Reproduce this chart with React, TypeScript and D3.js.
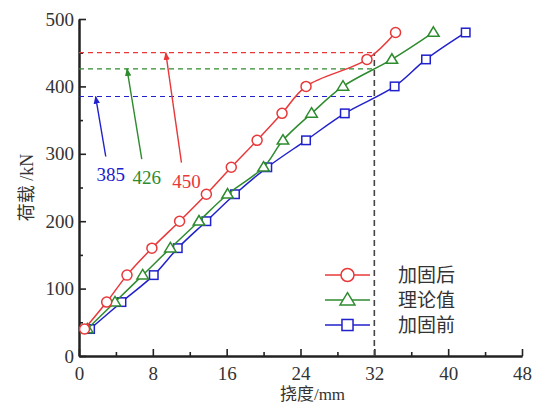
import React, { useEffect, useRef } from "react";
import * as d3 from "d3";

// load (kN) vs deflection (mm)
const afterX = [0.6, 3.0, 5.2, 7.9, 10.9, 13.8, 16.5, 19.3, 22.0, 24.6, 31.2, 34.3];
const afterY = [40, 80, 120, 160, 200, 240, 280, 320, 360, 400, 440, 480];
const theoryX = [0.9, 3.9, 6.9, 9.9, 13.0, 16.1, 20.0, 22.1, 25.2, 28.6, 33.9, 38.4];
const theoryY = [40, 80, 120, 160, 200, 240, 280, 320, 360, 400, 440, 480];
const beforeX = [1.2, 4.6, 8.1, 10.7, 13.8, 16.9, 20.4, 24.6, 28.8, 34.2, 37.6, 41.9];
const beforeY = [40, 80, 120, 160, 200, 240, 280, 320, 360, 400, 440, 480];

const seriesNames = ["加固后", "理论值", "加固前"];
const seriesColors = ["#e8383a", "#2e8b2e", "#2020cc"];
const seriesShapes = ["circle", "triangle", "square"];

const xTicks = [0, 8, 16, 24, 32, 40, 48];
const yTicks = [0, 100, 200, 300, 400, 500];

// reference levels and their arrow labels
const refLoads = [385, 426, 450];
const refDeflection = 32;
const arrowTail = [[2.9, 296], [6.8, 292], [11.1, 287]];
const arrowTip = [[1.8, 385], [5.2, 426], [9.4, 450]];

export default function App() {
  const ref = useRef<SVGSVGElement>(null);

  useEffect(() => {
    const W = 534, H = 407;
    const margin = { top: 19, right: 12, bottom: 51, left: 79 };
    const width = W - margin.left - margin.right;
    const height = H - margin.top - margin.bottom;
    const font = "'Liberation Serif', 'DejaVu Serif', serif, 'Noto Sans CJK SC'";
    const textColor = "#333";

    const root = d3.select(ref.current);
    root.selectAll("*").remove();
    const svg = root.append("g")
      .attr("transform", "translate(" + margin.left + "," + margin.top + ")");

    const x = d3.scaleLinear().domain([0, 48]).range([0, width]);
    const y = d3.scaleLinear().domain([0, 500]).range([height, 0]);

    // axes, ticks inward
    const xAxis = svg.append("g").attr("transform", "translate(0," + height + ")")
      .call(d3.axisBottom(x).tickValues(xTicks).tickSize(-7).tickPadding(11).tickSizeOuter(0));
    const xMinor = svg.append("g").attr("transform", "translate(0," + height + ")")
      .call(d3.axisBottom(x).tickValues(d3.range(4, 48, 8)).tickSize(-4).tickFormat(() => "").tickSizeOuter(0));
    const yAxis = svg.append("g")
      .call(d3.axisLeft(y).tickValues(yTicks).tickSize(-7).tickPadding(5).tickSizeOuter(0));
    const yMinor = svg.append("g")
      .call(d3.axisLeft(y).tickValues(d3.range(50, 500, 100)).tickSize(-4).tickFormat(() => "").tickSizeOuter(0));
    [xAxis, xMinor, yAxis, yMinor].forEach(a => {
      a.attr("font-family", font);
      a.select(".domain").attr("stroke", "#222").attr("stroke-width", 2);
      a.selectAll(".tick line").attr("stroke", "#222").attr("stroke-width", 1.6);
      a.selectAll("text").attr("font-size", 19).attr("fill", textColor);
    });

    // axis titles
    svg.append("text")
      .attr("x", x(24) + 12).attr("y", height + 44)
      .attr("text-anchor", "middle").attr("font-family", font).attr("font-size", 17)
      .attr("fill", textColor).text("挠度/mm");
    svg.append("text")
      .attr("transform", "translate(" + (-46) + "," + (height / 2) + ") rotate(-90)")
      .attr("text-anchor", "middle").attr("font-family", font).attr("font-size", 18)
      .attr("fill", textColor).text("荷载 /kN");

    // reference dashed lines
    refLoads.forEach((v, i) => {
      svg.append("line")
        .attr("x1", 0).attr("x2", x(refDeflection))
        .attr("y1", y(v)).attr("y2", y(v))
        .attr("stroke", seriesColors[2 - i]).attr("stroke-width", 1.2)
        .attr("stroke-dasharray", "5,4");
    });
    svg.append("line")
      .attr("x1", x(refDeflection)).attr("x2", x(refDeflection))
      .attr("y1", y(0)).attr("y2", y(450))
      .attr("stroke", "#444").attr("stroke-width", 1.6)
      .attr("stroke-dasharray", "6,4");

    // arrows + labels
    const defs = root.append("defs");
    refLoads.forEach((v, i) => {
      const c = seriesColors[2 - i];
      defs.append("marker")
        .attr("id", "arr" + i).attr("viewBox", "0 0 10 10")
        .attr("refX", 9).attr("refY", 5)
        .attr("markerWidth", 8).attr("markerHeight", 8)
        .attr("markerUnits", "userSpaceOnUse").attr("orient", "auto")
        .append("path").attr("d", "M0,1 L10,5 L0,9 z").attr("fill", c);
      svg.append("line")
        .attr("x1", x(arrowTail[i][0])).attr("y1", y(arrowTail[i][1]))
        .attr("x2", x(arrowTip[i][0])).attr("y2", y(arrowTip[i][1]))
        .attr("stroke", c).attr("stroke-width", 1.4)
        .attr("marker-end", "url(#arr" + i + ")");
      svg.append("text")
        .attr("x", x(arrowTail[i][0]) + 5).attr("y", y(arrowTail[i][1]) + 25)
        .attr("text-anchor", "middle").attr("font-family", font).attr("font-size", 19)
        .attr("fill", c).text(String(v));
    });

    // series
    const series = [
      afterX.map((d, i) => [d, afterY[i]]),
      theoryX.map((d, i) => [d, theoryY[i]]),
      beforeX.map((d, i) => [d, beforeY[i]]),
    ];
    const line = d3.line<number[]>()
      .x(d => x(d[0])).y(d => y(d[1]))
      .curve(d3.curveCatmullRom.alpha(0.5));

    const drawMarker = (g: any, shape: string, cx: number, cy: number, color: string, s: number) => {
      if (shape === "circle") {
        g.append("circle").attr("cx", cx).attr("cy", cy).attr("r", s)
          .attr("fill", "white").attr("stroke", color).attr("stroke-width", 1.5);
      } else if (shape === "triangle") {
        const h = s * 1.9;
        g.append("path")
          .attr("d", `M${cx},${cy - h * 0.6} L${cx + s * 1.15},${cy + h * 0.4} L${cx - s * 1.15},${cy + h * 0.4} Z`)
          .attr("fill", "white").attr("stroke", color).attr("stroke-width", 1.5);
      } else {
        g.append("rect").attr("x", cx - s * 0.85).attr("y", cy - s * 0.85)
          .attr("width", s * 1.7).attr("height", s * 1.7)
          .attr("fill", "white").attr("stroke", color).attr("stroke-width", 1.5);
      }
    };

    [2, 1, 0].forEach(k => {
      const g = svg.append("g");
      g.append("path").datum(series[k]).attr("d", line)
        .attr("fill", "none").attr("stroke", seriesColors[k]).attr("stroke-width", 1.5);
      series[k].forEach(p => drawMarker(g, seriesShapes[k], x(p[0]), y(p[1]), seriesColors[k], 5));
    });

    // legend
    const lg = svg.append("g").attr("transform", "translate(" + (325 - margin.left) + "," + (275 - margin.top) + ")");
    seriesNames.forEach((name, i) => {
      const row = lg.append("g").attr("transform", "translate(0," + i * 25 + ")");
      row.append("line").attr("x1", 0).attr("x2", 45).attr("y1", 0).attr("y2", 0)
        .attr("stroke", seriesColors[i]).attr("stroke-width", 1.5);
      drawMarker(row, seriesShapes[i], 22.5, 0, seriesColors[i], 6.5);
      row.append("text").attr("x", 73).attr("y", 0).attr("dy", "0.35em")
        .attr("font-family", font).attr("font-size", 19).attr("fill", textColor).text(name);
    });
  }, []);

  return (
    <svg ref={ref} width={534} height={407}
      style={{ position: "absolute", left: 0, top: 0, background: "white" }} />
  );
}
